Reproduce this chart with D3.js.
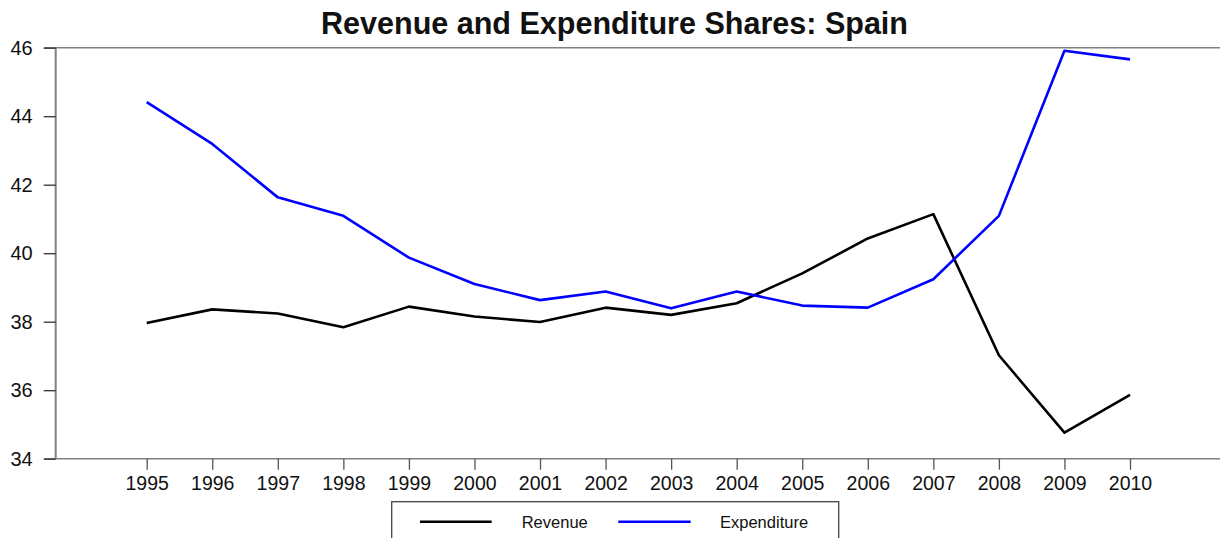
<!DOCTYPE html>
<html>
<head>
<meta charset="utf-8">
<script src="https://cdn.jsdelivr.net/npm/d3@7"></script>
<style>
  body { margin: 0; background: #fff; }
  text { font-family: "Liberation Sans", Arial, sans-serif; fill: #111; }
</style>
</head>
<body>
<div id="chart"></div>
<script>
const years = [1995, 1996, 1997, 1998, 1999, 2000, 2001, 2002, 2003, 2004, 2005, 2006, 2007, 2008, 2009, 2010];
const revenue = [37.96, 38.36, 38.24, 37.84, 38.44, 38.15, 37.99, 38.41, 38.2, 38.54, 39.41, 40.43, 41.14, 37.02, 34.76, 35.86];
const expenditure = [44.41, 43.19, 41.63, 41.09, 39.87, 39.1, 38.63, 38.88, 38.39, 38.88, 38.47, 38.41, 39.24, 41.09, 45.91, 45.66];
const yTicks = [34, 36, 38, 40, 42, 44, 46];
const seriesNames = ["Revenue", "Expenditure"];
const seriesColors = ["#000000", "#0000ff"];

let width = 1220, height = 538;
let plot = {left: 55.7, top: 47.7, bottom: 458.7};

let svg = d3.select("#chart")
    .append("svg")
    .attr("width", width)
    .attr("height", height);

// scales
let x = d3.scaleLinear()
    .domain([1995, 2010])
    .range([146.7, 1130]);

let y = d3.scaleLinear()
    .domain([34, 46])
    .range([plot.bottom, plot.top]);

// title
svg.append("text")
    .attr("x", 614.5)
    .attr("y", 34)
    .attr("text-anchor", "middle")
    .attr("textLength", 587)
    .attr("lengthAdjust", "spacingAndGlyphs")
    .style("font-size", "32px")
    .style("font-weight", "bold")
    .text("Revenue and Expenditure Shares: Spain");

// frame lines (top, bottom, left)
svg.append("line")
    .attr("x1", 44).attr("x2", width)
    .attr("y1", y(46)).attr("y2", y(46))
    .attr("stroke", "#808080").attr("stroke-width", 1.5);
svg.append("line")
    .attr("x1", 44).attr("x2", width)
    .attr("y1", y(34)).attr("y2", y(34))
    .attr("stroke", "#808080").attr("stroke-width", 1.5);

// y axis
svg.append("g")
    .attr("transform", `translate(${plot.left}, 0)`)
    .call(d3.axisLeft(y).tickValues(yTicks).tickSize(12).tickPadding(11))
    .call(g => g.select(".domain").attr("stroke", "#808080").attr("stroke-width", 2)
        .attr("d", `M0,${plot.top}V${plot.bottom}`))
    .call(g => g.selectAll(".tick line").attr("stroke", "#333").attr("stroke-width", 1.3))
    .call(g => g.selectAll(".tick text")
        .style("font-size", "20px")
        .style("font-family", "Liberation Sans, Arial, sans-serif")
        .attr("fill", "#111"));

// x axis
svg.append("g")
    .attr("transform", `translate(0, ${plot.bottom})`)
    .call(d3.axisBottom(x).tickValues(years).tickFormat(d3.format("d")).tickSize(11).tickPadding(6))
    .call(g => g.select(".domain").remove())
    .call(g => g.selectAll(".tick line").attr("stroke", "#555").attr("stroke-width", 1.3))
    .call(g => g.selectAll(".tick text")
        .style("font-size", "19.5px")
        .style("font-family", "Liberation Sans, Arial, sans-serif")
        .attr("fill", "#111"));

// lines
let line = d3.line()
    .x(function(d, i) { return x(years[i]); })
    .y(function(d) { return y(d); });

[revenue, expenditure].forEach(function(values, k) {
    svg.append("path")
        .datum(values)
        .attr("fill", "none")
        .attr("stroke", seriesColors[k])
        .attr("stroke-width", 2.6)
        .attr("stroke-linejoin", "round")
        .attr("d", line);
});

// legend
let legend = svg.append("g");
legend.append("rect")
    .attr("x", 391.7).attr("y", 501.7)
    .attr("width", 447).attr("height", 60)
    .attr("fill", "none")
    .attr("stroke", "#444").attr("stroke-width", 1.3);

let legendX = [[420, 491.7, 521.7], [618.3, 690.7, 720]];
seriesNames.forEach(function(name, k) {
    legend.append("line")
        .attr("x1", legendX[k][0]).attr("x2", legendX[k][1])
        .attr("y1", 521.7).attr("y2", 521.7)
        .attr("stroke", seriesColors[k]).attr("stroke-width", 2.6);
    legend.append("text")
        .attr("x", legendX[k][2])
        .attr("y", 527.5)
        .style("font-size", "16.5px")
        .text(name);
});
</script>
</body>
</html>
